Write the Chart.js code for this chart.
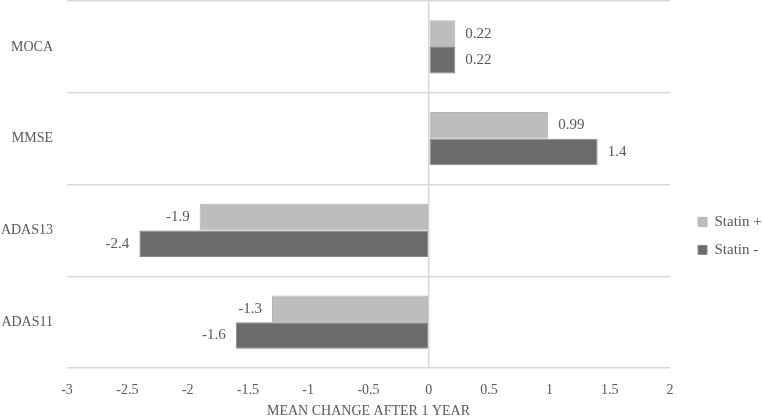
<!DOCTYPE html>
<html>
<head>
<meta charset="utf-8">
<script src="https://cdn.jsdelivr.net/npm/chart.js@4"></script>
<style>
  html, body { margin: 0; padding: 0; background: #fff; }
  #wrap { width: 762px; height: 416px; }
</style>
</head>
<body>
<div id="wrap"><canvas id="chart"></canvas></div>
<script>
const CATEGORIES = ['MOCA', 'MMSE', 'ADAS13', 'ADAS11'];
const STATIN_PLUS = [0.22, 0.99, -1.9, -1.3];
const STATIN_MINUS = [0.22, 1.4, -2.4, -1.6];
const SERIES_NAMES = ['Statin +', 'Statin -'];

const FONT = "'Liberation Serif', 'DejaVu Serif', serif";
const TEXT = '#595959';
const GRID = '#d9d9d9';

// value labels beside each bar end
const barLabels = {
  id: 'barLabels',
  afterDatasetsDraw(chart) {
    const ctx = chart.ctx;
    ctx.save();
    ctx.font = '15px ' + FONT;
    ctx.fillStyle = TEXT;
    ctx.textBaseline = 'middle';
    chart.data.datasets.forEach((ds, i) => {
      const meta = chart.getDatasetMeta(i);
      meta.data.forEach((bar, j) => {
        const v = ds.data[j];
        if (v >= 0) {
          ctx.textAlign = 'left';
          ctx.fillText(String(v), bar.x + 10, bar.y);
        } else {
          ctx.textAlign = 'right';
          ctx.fillText(String(v), bar.x - 10, bar.y);
        }
      });
    });
    ctx.restore();
  }
};

// push the legend a bit further from the plot, like the original
const legendShift = {
  id: 'legendShift',
  afterLayout(chart) {
    if (chart.legend) {
      chart.legend.left += 15;
      chart.legend.right += 15;
    }
  }
};

new Chart(document.getElementById('chart'), {
  type: 'bar',
  data: {
    labels: CATEGORIES,
    datasets: [{
      label: SERIES_NAMES[0],
      data: STATIN_PLUS,
      backgroundColor: '#bdbdbd',
      borderColor: '#b3b3b3',
      borderWidth: 1,
      borderSkipped: false,
      categoryPercentage: 0.58,
      barPercentage: 1.0
    }, {
      label: SERIES_NAMES[1],
      data: STATIN_MINUS,
      backgroundColor: '#6b6b6b',
      borderColor: '#8a8a8a',
      borderWidth: 1,
      borderSkipped: false,
      categoryPercentage: 0.58,
      barPercentage: 1.0
    }]
  },
  options: {
    indexAxis: 'y',
    responsive: true,
    maintainAspectRatio: false,
    animation: false,
    layout: { padding: { left: 0, top: 1, right: 0, bottom: 0 } },
    scales: {
      x: {
        min: -3,
        max: 2,
        afterFit(axis) {
          axis.paddingRight = 92;
          axis.height = 48;
        },
        ticks: {
          stepSize: 0.5,
          color: TEXT,
          font: { family: FONT, size: 14 },
          padding: 14,
          callback: v => String(v)
        },
        grid: {
          color: ctx => (ctx.tick && ctx.tick.value === 0) ? GRID : 'rgba(0,0,0,0)',
          lineWidth: 1.5,
          drawTicks: false
        },
        border: { display: false },
        title: {
          display: true,
          text: 'MEAN CHANGE AFTER 1 YEAR',
          color: TEXT,
          font: { family: FONT, size: 14, lineHeight: 0.7 },
          padding: { top: 0, bottom: 0 }
        }
      },
      y: {
        afterFit(axis) {
          axis.width = 67;
          axis.paddingTop = 0;
          axis.paddingBottom = 0;
        },
        ticks: {
          color: TEXT,
          font: { family: FONT, size: 14 },
          padding: 14
        },
        grid: {
          offset: true,
          color: GRID,
          lineWidth: 1.5,
          drawTicks: false
        },
        border: { display: false }
      }
    },
    plugins: {
      legend: {
        position: 'right',
        title: {
          display: true,
          text: ' ',
          font: { family: FONT, size: 14 },
          padding: { top: 0, bottom: 38 }
        },
        labels: {
          color: TEXT,
          font: { family: FONT, size: 15 },
          boxWidth: 9,
          boxHeight: 9,
          padding: 13
        }
      },
      tooltip: { enabled: false }
    }
  },
  plugins: [barLabels, legendShift]
});
</script>
</body>
</html>
